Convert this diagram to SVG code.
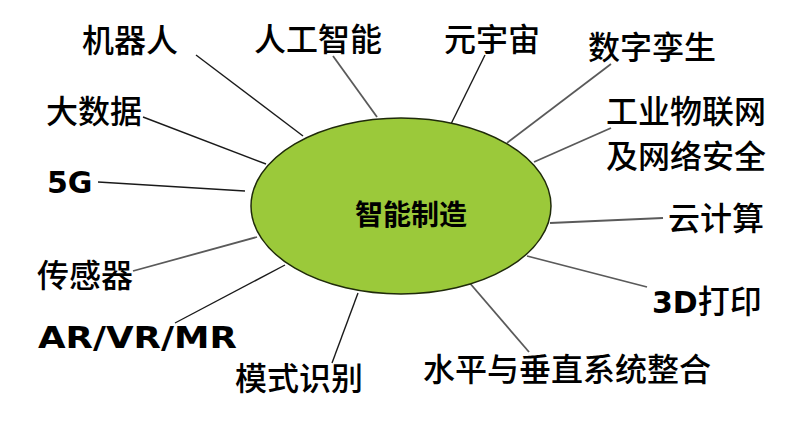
<svg xmlns="http://www.w3.org/2000/svg" width="798" height="423" viewBox="0 0 798 423">
<style>
.t{font-family:"Noto Sans CJK SC","Liberation Sans",sans-serif;font-size:32px;font-weight:500;fill:#000}
.b{font-family:"DejaVu Sans","Liberation Sans",sans-serif;font-size:30px;font-weight:bold;fill:#000}
.c{font-family:"Noto Sans CJK SC",sans-serif;font-size:28px;font-weight:bold;fill:#000}
.l1{stroke:#1a1a1a;stroke-width:1.4;fill:none}
.l2{stroke:#5a5a5a;stroke-width:1.8;fill:none}
</style>
<rect width="798" height="423" fill="#fff"/>
<g id="connectors">
<line class="l1" x1="196" y1="55" x2="303" y2="136"/>
<line class="l2" x1="333" y1="56" x2="377" y2="117"/>
<line class="l1" x1="143" y1="117" x2="266" y2="164"/>
<line class="l1" x1="98" y1="182" x2="245" y2="191"/>
<line class="l1" x1="485" y1="55" x2="450" y2="126"/>
<line class="l2" x1="611" y1="64" x2="507" y2="143"/>
<line class="l2" x1="611" y1="128" x2="534" y2="162"/>
<line class="l2" x1="663" y1="218" x2="550" y2="223"/>
<line class="l2" x1="647" y1="287" x2="527" y2="256"/>
<line class="l2" x1="529" y1="352" x2="468" y2="281"/>
<line class="l2" x1="133" y1="271" x2="257" y2="237"/>
<line class="l1" x1="175" y1="323" x2="285" y2="265"/>
<line class="l1" x1="332" y1="363" x2="358" y2="293"/>
</g>
<g id="center">
<ellipse cx="401" cy="206" rx="150" ry="88" fill="#9bc93a" stroke="#1f2a0a" stroke-width="1.5"/>
<text class="c" x="411" y="225" text-anchor="middle">智能制造</text>
</g>
<g id="n-robot"><text class="t" x="82" y="52">机器人</text></g>
<g id="n-ai"><text class="t" x="254" y="51">人工智能</text></g>
<g id="n-bigdata"><text class="t" x="46" y="123">大数据</text></g>
<g id="n-5g"><text class="b" x="47" y="193">5G</text></g>
<g id="n-meta"><text class="t" x="444" y="51">元宇宙</text></g>
<g id="n-twin"><text class="t" x="588" y="59">数字孪生</text></g>
<g id="n-iiot"><text class="t" x="606" y="123">工业物联网</text><text class="t" x="606" y="168">及网络安全</text></g>
<g id="n-cloud"><text class="t" x="668" y="230">云计算</text></g>
<g id="n-3d"><text class="b" x="652" y="313">3D<tspan class="t" style="font-weight:500">打印</tspan></text></g>
<g id="n-integ"><text class="t" x="423" y="381">水平与垂直系统整合</text></g>
<g id="n-sensor"><text class="t" x="37" y="287">传感器</text></g>
<g id="n-ar"><text class="b" x="38" y="348" textLength="199" lengthAdjust="spacingAndGlyphs">AR/VR/MR</text></g>
<g id="n-pattern"><text class="t" x="235" y="390">模式识别</text></g>
</svg>
